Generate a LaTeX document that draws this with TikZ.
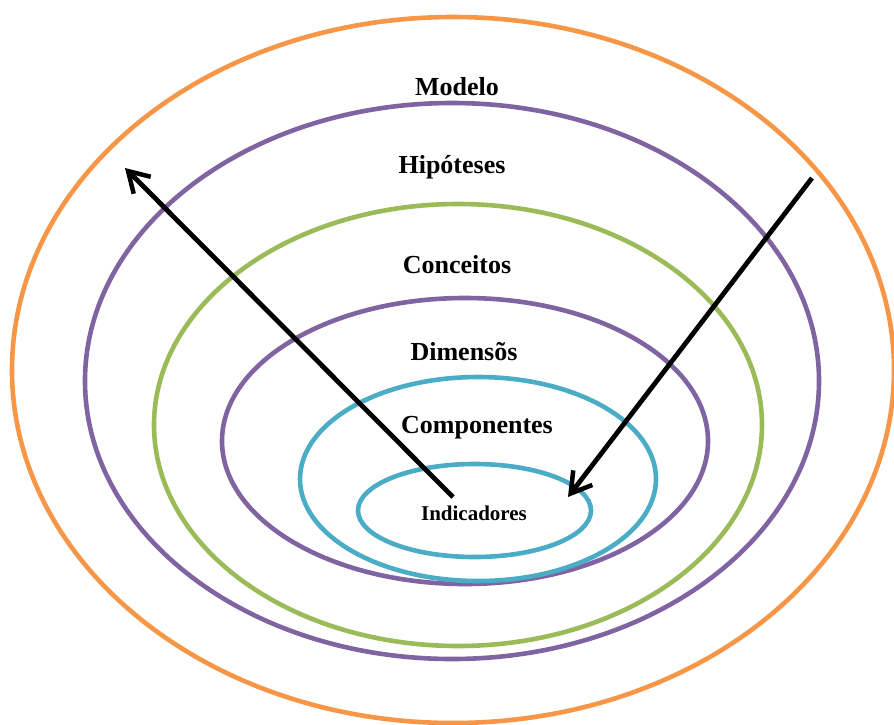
\documentclass[tikz,border=0pt]{standalone}
\usepackage{fontspec}
\setmainfont{Liberation Serif}
\usetikzlibrary{arrows.meta}
\usetikzlibrary{positioning}
\tikzset{ring/.style = {line width = 4.6pt}}
\tikzset{lbl/.style = {font = \fontsize{26}{30}\selectfont\bfseries, inner sep = 0}}
\tikzset{barb/.style = {line width = 4.8pt, -{Straight Barb[length = 20pt, width = 24pt, line width = 4.5pt]}}}
\definecolor{morange}{HTML}{F79646}
\definecolor{mpurple}{HTML}{8064A2}
\definecolor{mgreen}{HTML}{9BBB59}
\definecolor{mcyan}{HTML}{4BACC6}

\begin{document}
\begin{tikzpicture}[x = 1pt, y = -1pt]
      \useasboundingbox (0, 0) rectangle (894, 724);
      \clip (0, 0) rectangle (894, 724);
      \draw [ring, morange] (453, 370) ellipse [x radius = 441, y radius = 353];
      \draw [ring, mpurple] (452, 381) ellipse [x radius = 367, y radius = 278];
      \draw [ring, mgreen] (458, 425) ellipse [x radius = 304, y radius = 221];
      \draw [ring, mpurple] (465, 441) ellipse [x radius = 243, y radius = 143];
      \draw [ring, mcyan] (478, 479) ellipse [x radius = 178, y radius = 102];
      \draw [ring, mcyan] (474.5, 510.5) ellipse [x radius = 116.5, y radius = 46.5];
      \node [lbl] (modelo) at (457, 87) {Modelo};
      \node [lbl] (hipoteses) at (452, 167) {Hipóteses};
      \node [lbl] (conceitos) at (457, 265) {Conceitos};
      \node [lbl] (dimensos) at (464, 352) {Dimensõs};
      \node [lbl] (componentes) at (477, 428) {Componentes};
      \node [lbl, font = \fontsize{21}{24}\selectfont\bfseries] (indicadores) at (474, 513) {Indicadores};
      \coordinate (upstart) at (453, 497);
      \coordinate (upend) at (125, 168);
      \coordinate (downstart) at (812, 178);
      \coordinate (downend) at (568, 497);
      \draw [barb] (upstart) -- (upend);
      \draw [barb] (downstart) -- (downend);
    \end{tikzpicture}
\end{document}
